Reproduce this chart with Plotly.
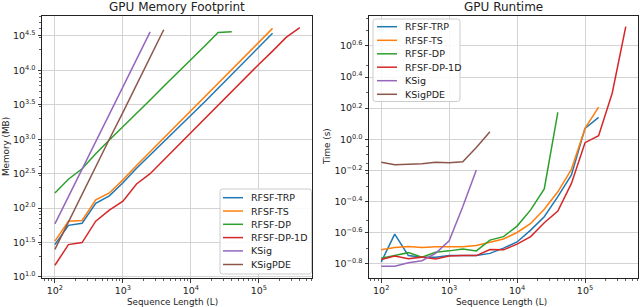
import plotly.graph_objects as go

# Sequence lengths (L)
L = [100, 158, 251, 398, 631, 1000, 1585, 2512, 3981, 6310, 10000, 15849,
     25119, 39811, 63096, 100000, 158489, 251189, 398107]

names = ["RFSF-TRP", "RFSF-TS", "RFSF-DP", "RFSF-DP-1D", "KSig", "KSigPDE"]
colors = ["#1f77b4", "#ff7f0e", "#2ca02c", "#d62728", "#9467bd", "#8c564b"]

# GPU memory (MB)
mem_trp = [29.5, 56.2, 60.3, 117.5, 151, 234, 380, 589, 912, 1413, 2239, 3467, 5495, 8710, 13804, 21878, 34674]
mem_ts = [33.1, 64.6, 66.1, 131.8, 166, 257, 417, 661, 1047, 1660, 2630, 4169, 6607, 10471, 16218, 25704, 40738]
mem_dp = [166, 263, 372, 617, 977, 1514, 2399, 3715, 5888, 9120, 14454, 22387, 35481, 36308]
mem_dp1d = [14.8, 29.5, 31.6, 64.6, 93.3, 126, 224, 316, 501, 794, 1259, 1950, 3090, 4898, 7762, 12303, 19055, 30200, 41687]
mem_ksig = [58.9, 148, 372, 933, 2344, 5754, 14454, 36308]
mem_ksigpde = [25.1, 63.1, 158, 398, 1000, 2455, 6166, 15488, 38905]

# GPU runtime (s)
time_trp = [0.163, 0.246, 0.179, 0.175, 0.175, 0.179, 0.179, 0.179, 0.185, 0.200, 0.219, 0.261, 0.318, 0.428, 0.590, 1.175, 1.384]
time_ts = [0.195, 0.202, 0.205, 0.202, 0.204, 0.204, 0.204, 0.208, 0.218, 0.229, 0.252, 0.288, 0.355, 0.460, 0.641, 1.175, 1.607]
time_dp = [0.172, 0.179, 0.187, 0.175, 0.188, 0.192, 0.197, 0.192, 0.225, 0.237, 0.277, 0.352, 0.480, 1.489]
time_dp1d = [0.169, 0.178, 0.171, 0.175, 0.170, 0.178, 0.179, 0.179, 0.196, 0.195, 0.212, 0.237, 0.291, 0.346, 0.521, 0.951, 1.054, 1.977, 5.297]
time_ksig = [0.153, 0.153, 0.161, 0.166, 0.185, 0.223, 0.369, 0.635]
time_ksigpde = [0.711, 0.687, 0.692, 0.697, 0.711, 0.708, 0.718, 0.885, 1.119]

mem_series = [mem_trp, mem_ts, mem_dp, mem_dp1d, mem_ksig, mem_ksigpde]
time_series = [time_trp, time_ts, time_dp, time_dp1d, time_ksig, time_ksigpde]

# tick labels
x_tick_exp = [2, 3, 4, 5]
mem_tick_exp = ["1.0", "1.5", "2.0", "2.5", "3.0", "3.5", "4.0", "4.5"]
time_tick_exp = ["-0.8", "-0.6", "-0.4", "-0.2", "0.0", "0.2", "0.4", "0.6"]

FONT = "DejaVu Sans"
INK = "#222222"

W, H = 640, 307
ml, mr, mt, mb = 42, 2, 16, 29
pw = W - ml - mr
ph = H - mt - mb


def px(x):
    return (x - ml) / pw


def py(y):
    return (H - mb - y) / ph


fig = go.Figure()

for n, c, v in zip(names, colors, mem_series):
    fig.add_trace(go.Scatter(x=L[:len(v)], y=v, mode="lines", name=n,
                             line=dict(color=c, width=1.5), xaxis="x", yaxis="y",
                             showlegend=False))
for n, c, v in zip(names, colors, time_series):
    fig.add_trace(go.Scatter(x=L[:len(v)], y=v, mode="lines", name=n,
                             line=dict(color=c, width=1.5), xaxis="x2", yaxis="y2",
                             showlegend=False))

minor_x = [m * 10 ** k for k in range(1, 6) for m in range(2, 10)]
minor_mem = [m * 10 ** k for k in range(0, 5) for m in range(2, 10)]
minor_time = [m * 10.0 ** k for k in range(-1, 1) for m in range(2, 10)]


def tick_text(e):
    return "10<sup>" + e.replace("-", "\u2212") + "</sup>"


common = dict(showline=True, linecolor=INK, linewidth=1, mirror=True,
              ticks="outside", ticklen=3.5, tickwidth=0.9, tickcolor=INK,
              showgrid=True, gridcolor="#d3d3d3", gridwidth=1, zeroline=False,
              automargin=False,
              tickfont=dict(family=FONT, size=9.5, color=INK))

minor_kw = dict(ticks="outside", ticklen=2, tickwidth=0.7, tickcolor=INK, showgrid=False)

xvals = [10 ** e for e in x_tick_exp]
xtext = ["10<sup>%d</sup>" % e for e in x_tick_exp]
xaxis_kw = dict(type="log", tickmode="array", tickvals=xvals, ticktext=xtext,
                minor=dict(tickmode="array", tickvals=minor_x, **minor_kw), **common)

fig.update_layout(
    width=W, height=H,
    margin=dict(l=ml, r=mr, t=mt, b=mb),
    paper_bgcolor="white", plot_bgcolor="white",
    font=dict(family=FONT, size=10, color=INK),
    showlegend=False,
    hovermode=False,
    xaxis=dict(domain=[0, px(312)], range=[1.81, 5.78], anchor="y", **xaxis_kw),
    xaxis2=dict(domain=[px(369), 1.0], range=[1.82, 5.78], anchor="y2", **xaxis_kw),
    yaxis=dict(type="log", domain=[0, 1], range=[0.985, 4.79], anchor="x",
               tickmode="array", tickvals=[10 ** float(e) for e in mem_tick_exp],
               ticktext=[tick_text(e) for e in mem_tick_exp],
               minor=dict(tickmode="array", tickvals=minor_mem, **minor_kw),
               **common),
    yaxis2=dict(type="log", domain=[0, 1], range=[-0.891, 0.792], anchor="x2",
                tickmode="array", tickvals=[10 ** float(e) for e in time_tick_exp],
                ticktext=[tick_text(e) for e in time_tick_exp],
                minor=dict(tickmode="array", tickvals=minor_time, **minor_kw),
                **common),
)

annotations = [
    dict(text="GPU Memory Footprint", x=px(177), y=py(7), size=12),
    dict(text="GPU Runtime", x=px(503), y=py(7), size=12),
    dict(text="Sequence Length (L)", x=px(172), y=py(301.5), size=8.8),
    dict(text="Sequence Length (L)", x=px(501), y=py(301.5), size=8.8),
    dict(text="Memory (MB)", x=px(6), y=py(147), size=8.8, angle=-90),
    dict(text="Time (s)", x=px(327), y=py(147), size=8.8, angle=-90),
]
ann_objs = []
for a in annotations:
    ann_objs.append(dict(text=a["text"], x=a["x"], y=a["y"], xref="paper", yref="paper",
                         xanchor="center", yanchor="middle", showarrow=False,
                         textangle=a.get("angle", 0),
                         font=dict(family=FONT, size=a["size"], color=INK)))

shapes = []


def rounded_box(x0, y0, x1, y1, r=2.5):
    # pixel coordinates -> path in paper units
    pts = [
        ("M", x0 + r, y0), ("L", x1 - r, y0), ("Q", x1, y0, x1, y0 + r),
        ("L", x1, y1 - r), ("Q", x1, y1, x1 - r, y1), ("L", x0 + r, y1),
        ("Q", x0, y1, x0, y1 - r), ("L", x0, y0 + r), ("Q", x0, y0, x0 + r, y0),
    ]
    s = ""
    for p in pts:
        if p[0] == "Q":
            s += "Q%.5f,%.5f %.5f,%.5f " % (px(p[1]), py(p[2]), px(p[3]), py(p[4]))
        else:
            s += "%s%.5f,%.5f " % (p[0], px(p[1]), py(p[2]))
    return s + "Z"


def add_legend(box, line_x0, line_x1, text_x, ys):
    shapes.append(dict(type="path", path=rounded_box(*box), xref="paper", yref="paper",
                       fillcolor="rgba(255,255,255,0.85)", line=dict(color="#cccccc", width=1)))
    for n, c, yy in zip(names, colors, ys):
        shapes.append(dict(type="line", xref="paper", yref="paper",
                           x0=px(line_x0), x1=px(line_x1), y0=py(yy), y1=py(yy),
                           line=dict(color=c, width=1.5)))
        ann_objs.append(dict(text=n, x=px(text_x), y=py(yy), xref="paper", yref="paper",
                             xanchor="left", yanchor="middle", showarrow=False,
                             font=dict(family=FONT, size=9.5, color=INK)))


add_legend((220, 189, 311.5, 274), 223, 243, 249, [197.7, 211, 224.3, 237.6, 250.9, 264.5])
add_legend((373, 19, 460, 101.5), 377, 397, 403, [26.7, 40.3, 53.8, 67.2, 80.7, 94.3])

fig.update_layout(annotations=ann_objs, shapes=shapes)

fig.write_html("out.html",
               config={"displayModeBar": False, "staticPlot": True},
               post_script="document.body.style.margin='0';document.body.style.padding='0';")
